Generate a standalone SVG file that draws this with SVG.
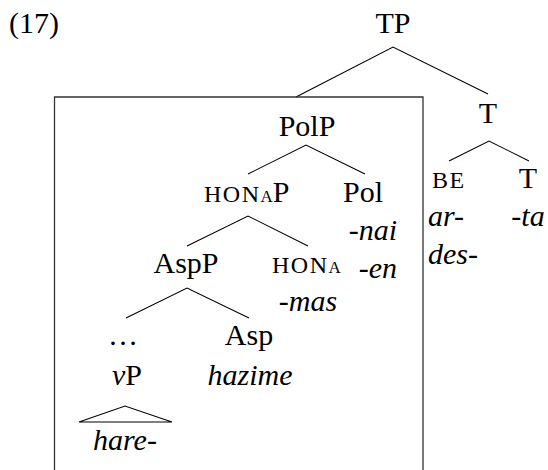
<svg xmlns="http://www.w3.org/2000/svg" width="548" height="470" viewBox="0 0 548 470">
<style>
text{font-family:"Liberation Serif","Times New Roman",serif;font-size:30px;fill:#000}
.i{font-style:italic}
.sc{font-size:24px;letter-spacing:1.5px}
.sub{font-size:17px}
.m{text-anchor:middle}
.e{text-anchor:end}
line,polyline,polygon{stroke:#000;stroke-width:1.1;fill:none}
.box{stroke:#333;stroke-width:1.3;fill:none}
</style>
<rect width="548" height="470" fill="#fff"/>
<text x="9" y="33">(17)</text>
<g id="connectors">
<polyline points="296,97 393,47 488,94"/>
<polyline points="248,174 306,145 365,174"/>
<polyline points="449,161 489,141 529,161"/>
<polyline points="187,246 248,216 308,246"/>
<polyline points="126,318 187,288 249,318"/>
<polygon points="79,422 125,406 172,422"/>
</g>
<g id="box"><polyline class="box" points="54.5,480 54.5,97 423,97 423,480"/></g>
<g id="TP"><text class="m" x="393" y="33">TP</text></g>
<g id="PolP"><text class="m" x="307" y="136">PolP</text></g>
<g id="T1"><text class="m" x="488" y="123">T</text></g>
<g id="BE"><text class="sc" x="432" y="188">BE</text><text class="i" x="428" y="226">ar-</text><text class="i" x="428" y="264">des-</text></g>
<g id="T2"><text class="m" x="528" y="188">T</text><text class="i m" x="528" y="226">-ta</text></g>
<g id="HONAP"><text x="204" y="202"><tspan class="sc">HON</tspan><tspan class="sub">A</tspan>P</text></g>
<g id="Pol"><text x="343" y="202">Pol</text><text class="i e" x="397" y="240">-nai</text><text class="i e" x="397" y="278">-en</text></g>
<g id="AspP"><text class="m" x="186" y="273">AspP</text></g>
<g id="HONA"><text x="272" y="273"><tspan class="sc">HON</tspan><tspan class="sub">A</tspan></text><text class="i m" x="308" y="311">-mas</text></g>
<g id="dots"><text class="m" x="123" y="345">…</text></g>
<g id="Asp"><text class="m" x="249" y="345">Asp</text><text class="i m" x="250" y="385">hazime</text></g>
<g id="vP"><text class="m" x="127" y="385"><tspan class="i">v</tspan>P</text><text class="i m" x="125" y="450">hare-</text></g>
</svg>
